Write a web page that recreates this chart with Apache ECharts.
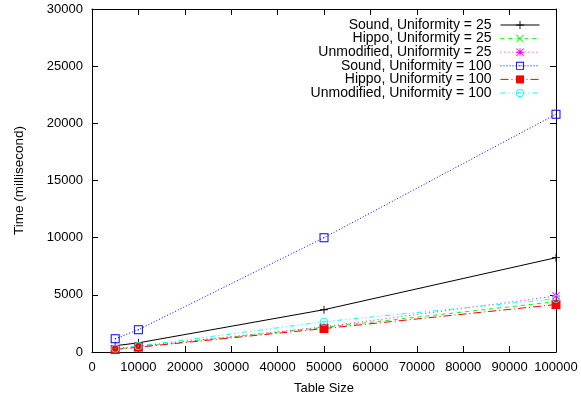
<!DOCTYPE html>
<html><head><meta charset="utf-8">
<script src="https://cdn.jsdelivr.net/npm/echarts@6/dist/echarts.min.js"></script>
<style>html,body{margin:0;padding:0;background:#fff}#c{width:581px;height:400px}</style>
</head><body><div id="c"></div>
<script>
const tableSizes = [5000, 10000, 50000, 100000];
const seriesNames = ["Sound, Uniformity = 25", "Hippo, Uniformity = 25", "Unmodified, Uniformity = 25",
  "Sound, Uniformity = 100", "Hippo, Uniformity = 100", "Unmodified, Uniformity = 100"];
const sound25 = [550, 800, 3700, 8250];
const hippo25 = [250, 450, 2150, 4400];
const unmod25 = [280, 500, 2200, 4900];
const sound100 = [1150, 1950, 10000, 20800];
const hippo100 = [220, 420, 2050, 4150];
const unmod100 = [300, 520, 2650, 4650];
const xTicks = [0, 10000, 20000, 30000, 40000, 50000, 60000, 70000, 80000, 90000, 100000];
const yTicks = [0, 5000, 10000, 15000, 20000, 25000, 30000];

const values = [sound25, hippo25, unmod25, sound100, hippo100, unmod100];
const colors = ['#000000', '#00ff00', '#ff00ff', '#0000ff', '#ff0000', '#00ffff'];
const dashes = ['solid', [4, 4], [1, 3], [1, 2], [8, 3, 1, 3], [5, 3, 1, 3, 1, 3]];
const PLUS = 'M4,0H5V9H4Z M0,4H9V5H0Z';
const CROSS = 'M0,0.7L0.7,0L4.5,3.8L8.3,0L9,0.7L5.2,4.5L9,8.3L8.3,9L4.5,5.2L0.7,9L0,8.3L3.8,4.5Z';
const symbols = [
  'path://' + PLUS,
  'path://' + CROSS,
  'path://' + PLUS + ' ' + CROSS,
  'path://M0,0H9V9H0Z M1,1V8H8V1Z M4,4V5H5V4Z',
  'path://M0,0H9V9H0Z',
  'path://M4.5,0A4.5,4.5,0,1,1,4.5,9A4.5,4.5,0,1,1,4.5,0Z M4.5,1A3.5,3.5,0,1,0,4.5,8A3.5,3.5,0,1,0,4.5,1Z M4,4H5V5H4Z'
];
const sizes = [8, 8, 8, 9, 9, 8];

const font = 'Liberation Sans, Arial, sans-serif';
const series = seriesNames.map((name, i) => ({
  name: name,
  type: 'line',
  data: tableSizes.map((x, j) => [x, values[i][j]]),
  symbol: symbols[i],
  symbolSize: sizes[i],
  showAllSymbol: true,
  lineStyle: { color: colors[i], width: 1, type: dashes[i] },
  itemStyle: { color: colors[i], borderWidth: 0 },
  emphasis: { disabled: true },
  animation: false
}));

const baseX = {
  type: 'value', min: 0, max: 100000, interval: 10000,
  axisLine: { show: true, onZero: false, lineStyle: { color: '#000', width: 1 } },
  axisTick: { show: true, inside: true, length: 6, lineStyle: { color: '#000' } },
  splitLine: { show: false }
};
const baseY = {
  type: 'value', min: 0, max: 30000, interval: 5000,
  axisLine: { show: true, onZero: false, lineStyle: { color: '#000', width: 1 } },
  axisTick: { show: true, inside: true, length: 6, lineStyle: { color: '#000' } },
  splitLine: { show: false }
};

const chart = echarts.init(document.getElementById('c'), null, { renderer: 'canvas' });
chart.setOption({
  backgroundColor: '#fff',
  animation: false,
  grid: { left: 92, right: 25, top: 9, bottom: 47, containLabel: false },
  legend: {
    orient: 'vertical', right: 36, top: 13, align: 'right',
    itemWidth: 39, itemHeight: 10, itemGap: -0.4,
    itemStyle: { borderWidth: 0 },
    lineStyle: { width: 1 },
    textStyle: { fontFamily: font, fontSize: 14, color: '#000', padding: [0, 4, 0, 0] },
    data: seriesNames
  },
  xAxis: [
    Object.assign({}, baseX, {
      position: 'bottom', name: 'Table Size', nameLocation: 'middle', nameGap: 30,
      nameTextStyle: { fontFamily: font, fontSize: 13, color: '#000' },
      axisLabel: { fontFamily: font, fontSize: 13, color: '#000', margin: 9, formatter: v => xTicks.includes(v) ? String(v) : '' }
    }),
    Object.assign({}, baseX, { position: 'top', axisLabel: { show: false } })
  ],
  yAxis: [
    Object.assign({}, baseY, {
      position: 'left', name: 'Time (millisecond)', nameLocation: 'middle', nameGap: 66,
      nameTextStyle: { fontFamily: font, fontSize: 13.5, color: '#000' },
      axisLabel: { fontFamily: font, fontSize: 13, color: '#000', margin: 9, formatter: v => yTicks.includes(v) ? String(v) : '' }
    }),
    Object.assign({}, baseY, { position: 'right', axisLabel: { show: false } })
  ],
  series: series
});
</script></body></html>
